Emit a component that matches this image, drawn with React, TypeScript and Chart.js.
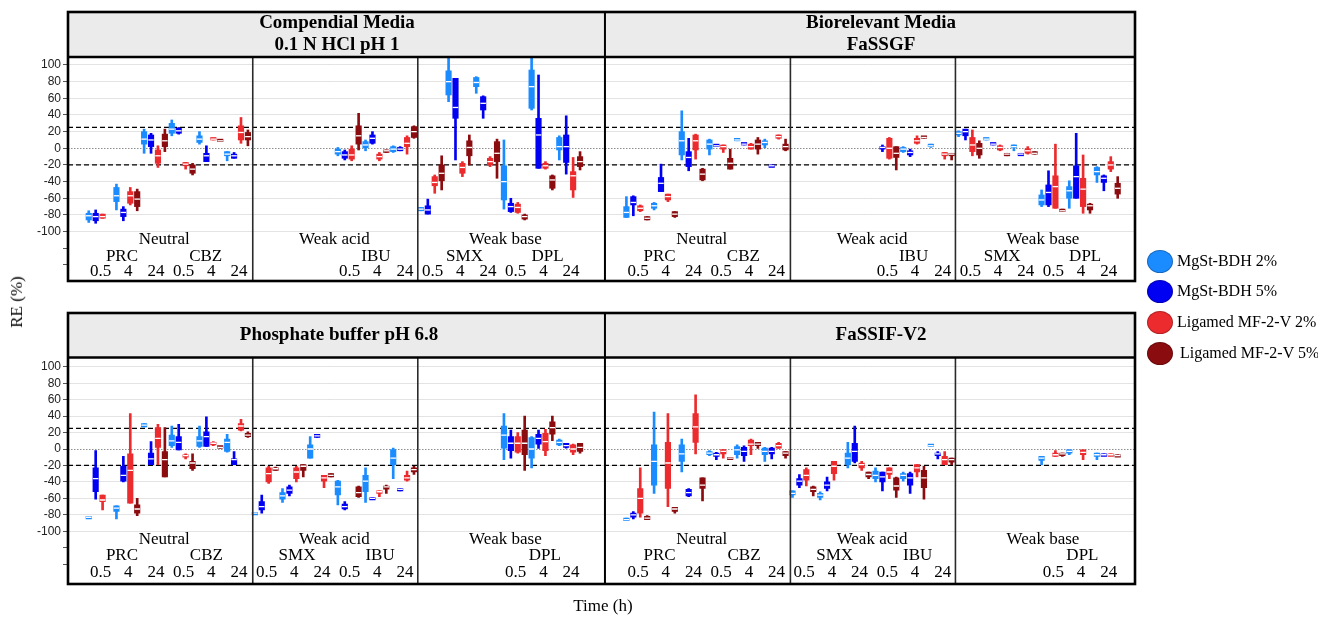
import React, { useEffect, useRef } from 'react';
import { Chart, registerables } from 'chart.js';

Chart.register(...registerables);

type Box = [number, number, number, number, number] | null; // [min, q1, median, q3, max]
const _ = null;

const SERIES = ['MgSt-BDH 2%', 'MgSt-BDH 5%', 'Ligamed MF-2-V 2%', 'Ligamed MF-2-V 5%'];
const COLORS = ['#1b8cff', '#0000f2', '#ec2b2e', '#8b0c0f'];
const TIMES = ['0.5', '4', '24'];
const CLASSES = ['Neutral', 'Weak acid', 'Weak base'];
const DRUGS_TOP = ['PRC', 'CBZ', '', 'IBU', 'SMX', 'DPL'];
const DRUGS_BOTTOM = ['PRC', 'CBZ', 'SMX', 'IBU', '', 'DPL'];
const HEADERS_TOP = [['Compendial Media', '0.1 N HCl pH 1'], ['Biorelevant Media', 'FaSSGF']];
const HEADERS_BOTTOM = [['Phosphate buffer pH 6.8'], ['FaSSIF-V2']];
const Y_TICKS = [-140, -120, -100, -80, -60, -40, -20, 0, 20, 40, 60, 80, 100];
const LIMITS = [25, -20];

// ---- 0.1 N HCl pH 1 (18 groups: PRC 0.5/4/24, CBZ, acid A, acid B, base A, base B)
const HCL_MG2: Box[] = [
  [-89, -86, -81, -78, -75], [-74, -64, -57, -47, -43], [-6, 5, 11, 20, 23],
  [15, 18, 23, 30, 34], [5, 7, 11, 15, 20], [-15, -9, -7, -4, -4],
  _, _, _,
  [-9, -7, -4, -1, 1], [-3, 0, 4, 8, 10], [-5, -4, -1, 2, 3],
  [-75, -75, -73, -71, -71], [56, 64, 80, 93, 115], [66, 74, 79, 85, 86],
  [-73, -62, -40, -21, 10], [46, 48, 74, 94, 115], [-14, -2, 2, 13, 15],
];
const HCL_MG5: Box[] = [
  [-90, -87, -82, -78, -74], [-87, -82, -77, -73, -70], [-6, 2, 10, 16, 18],
  [17, 18, 21, 24, 25], [-16, -16, -9, -6, 3], [-12, -12, -9, -7, -5],
  _, _, _,
  [-14, -12, -8, -4, -2], [5, 6, 12, 16, 20], [-3, -3, -1, 1, 2],
  [-79, -79, -74, -69, -61], [-14, 36, 49, 84, 84], [36, 46, 54, 62, 63],
  [-77, -76, -70, -66, -60], [-24, -24, 16, 36, 88], [-31, -17, 2, 16, 39],
];
const HCL_LG2: Box[] = [
  [-84, -84, -82, -79, -79], [-68, -66, -57, -52, -47], [-23, -18, -9, -2, 3],
  [-25, -21, -19, -17, -17], [10, 10, 11, 12, 12], [6, 10, 19, 27, 37],
  _, _, _,
  [-15, -13, -8, -1, 3], [-15, -13, -10, -7, -5], [-7, 2, 6, 13, 15],
  [-54, -45, -41, -34, -32], [-34, -30, -23, -18, -16], [-22, -20, -16, -12, -10],
  [-78, -77, -71, -67, -65], [-25, -24, -21, -18, -16], [-59, -50, -33, -28, -11],
];
const HCL_LG5: Box[] = [
  _, [-75, -70, -61, -52, -49], [-4, 2, 9, 17, 23],
  [-32, -30, -25, -20, -18], [8, 8, 9, 10, 10], [3, 10, 14, 19, 22],
  _, _, _,
  [-2, 5, 15, 27, 42], [-5, -5, -3, -2, -2], [12, 13, 20, 26, 27],
  [-50, -39, -30, -20, -9], [-20, -9, 1, 9, 16], [-36, -16, -6, 8, 11],
  [-86, -85, -82, -80, -79], [-50, -48, -38, -33, -32], [-26, -22, -16, -10, -4],
];

// ---- FaSSGF
const GF_MG2: Box[] = [
  [-83, -83, -77, -70, -58], [-74, -72, -69, -66, -65], [-14, -8, 9, 20, 45],
  [-8, -1, 5, 10, 11], [9, 9, 10, 11, 11], [0, 4, 7, 9, 11],
  _, _, _,
  _, [-5, -4, -1, 1, 2], [1, 2, 3, 4, 5],
  [14, 16, 18, 20, 21], [10, 10, 11, 12, 12], [-3, 1, 2, 4, 4],
  [-70, -68, -62, -56, -50], [-72, -60, -51, -46, -39], [-41, -32, -28, -23, -22],
];
const GF_MG5: Box[] = [
  [-81, -68, -65, -58, -57], [-52, -52, -42, -35, -19], [-27, -22, -11, -4, 12],
  [2, 2, 3, 4, 4], [4, 4, 5, 6, 6], [-22, -22, -21, -20, -20],
  _, _, _,
  [-4, -1, 1, 2, 4], [-10, -8, -5, -3, -1], _,
  [10, 15, 20, 23, 23], [4, 4, 5, 6, 6], [-8, -8, -7, -6, -6],
  [-70, -68, -53, -44, -27], [-60, -60, -34, -21, 18], [-51, -41, -36, -33, -32],
];
const GF_LG2: Box[] = [
  [-76, -75, -72, -69, -68], [-64, -62, -58, -55, -55], [-13, -2, 9, 16, 17],
  [-5, -1, 2, 4, 4], [-1, -1, 2, 5, 6], [11, 12, 14, 16, 16],
  _, _, _,
  [-13, -12, 0, 12, 13], [5, 6, 9, 12, 15], [-13, -9, -7, -5, -5],
  [-9, -4, 4, 13, 22], [-3, -2, 1, 3, 4], [-7, -6, -3, 0, 2],
  [-72, -72, -46, -33, 5], [-78, -70, -49, -36, -8], [-28, -25, -20, -16, -10],
];
const GF_LG5: Box[] = [
  [-86, -86, -84, -82, -82], [-83, -82, -79, -76, -76], [-39, -38, -31, -25, -24],
  [-25, -25, -18, -12, -1], [-7, -1, 5, 10, 13], [-3, -2, 2, 5, 11],
  _, _, _,
  [-26, -11, -6, 2, 2], [12, 12, 13, 14, 14], [-14, -9, -7, -6, -6],
  [-12, -8, 0, 6, 9], [-9, -9, -7, -6, -6], [-7, -7, -6, -4, -4],
  [-76, -76, -75, -73, -73], [-78, -74, -69, -67, -66], [-60, -55, -48, -42, -34],
];

// ---- Phosphate buffer pH 6.8
const PB_MG2: Box[] = [
  [-84, -84, -83, -82, -82], [-85, -76, -72, -69, -69], [27, 27, 29, 31, 31],
  [2, 4, 10, 17, 28], [2, 3, 10, 15, 28], [-4, -3, 8, 12, 18],
  [-80, -80, -78, -77, -77], [-65, -61, -57, -53, -48], [-11, -11, 0, 5, 15],
  [-68, -56, -46, -39, -38], [-65, -52, -39, -32, -23], [-36, -19, -11, 0, 1],
  _, _, _,
  [-13, 1, 17, 28, 43], [-23, -11, 0, 14, 15], [4, 5, 8, 11, 12],
];
const PB_MG5: Box[] = [
  [-61, -52, -36, -23, -2], [-40, -39, -32, -21, -9], [-19, -19, -12, -5, 9],
  [-1, -1, 8, 15, 30], [3, 3, 15, 21, 39], [-19, -19, -13, -12, -3],
  [-78, -74, -70, -64, -56], [-57, -54, -50, -46, -44], [14, 14, 16, 18, 18],
  [-74, -73, -70, -67, -64], [-61, -61, -60, -59, -59], [-51, -51, -49, -48, -48],
  _, _, _,
  [-11, -2, 7, 15, 23], [0, 6, 13, 18, 23], [1, 2, 4, 7, 7],
];
const PB_LG2: Box[] = [
  [-74, -64, -62, -56, -56], [-66, -66, -26, -6, 43], [-19, 2, 13, 26, 30],
  [-12, -9, -8, -7, -6], [4, 5, 7, 8, 9], [22, 23, 28, 31, 36],
  [-42, -40, -30, -23, -21], [-40, -36, -28, -23, -21], [-47, -39, -35, -32, -32],
  _, [-58, -54, -52, -51, -51], [-39, -38, -35, -32, -27],
  _, _, _,
  [-5, -4, 7, 15, 20], [-8, -2, 9, 19, 24], [-7, -4, 0, 5, 6],
];
const PB_LG5: Box[] = [
  _, [-81, -78, -73, -68, -60], [-34, -34, -13, -3, 26],
  [-26, -24, -17, -15, -6], [1, 1, 2, 3, 3], [14, 15, 17, 19, 21],
  [-26, -26, -24, -23, -22], [-34, -26, -21, -19, -19], [-34, -34, -32, -30, -30],
  [-59, -58, -53, -46, -45], [-54, -49, -46, -45, -44], [-31, -28, -25, -23, -21],
  _, _, _,
  [-26, -7, 7, 23, 40], [10, 18, 26, 33, 40], [-5, -3, 2, 7, 7],
];

// ---- FaSSIF-V2
const IF_MG2: Box[] = [
  [-87, -87, -86, -84, -84], [-54, -44, -15, 5, 45], [-28, -15, -6, 5, 12],
  [-8, -7, -5, -3, -2], [-11, -7, -1, 3, 5], [-15, -7, -3, 1, 2],
  [-59, -56, -54, -51, -51], [-62, -59, -56, -54, -52], [-23, -19, -11, -5, 8],
  [-40, -36, -32, -27, -23], [-39, -36, -32, -30, -28], [3, 3, 4, 5, 5],
  _, _, _,
  [-19, -14, -11, -9, -9], [-7, -5, -3, -1, -1], [-13, -9, -7, -5, -5],
];
const IF_MG5: Box[] = [
  [-85, -83, -80, -78, -76], _, [-58, -57, -53, -49, -48],
  [-13, -9, -7, -5, -4], [-15, -8, -3, 2, 4], [-12, -6, -3, 1, 2],
  [-47, -44, -39, -36, -31], [-51, -48, -44, -40, -34], [-17, -15, -3, 7, 28],
  [-51, -40, -34, -28, -28], [-54, -44, -35, -30, -28], [-12, -8, -6, -5, -3],
  _, _, _,
  _, _, [-8, -8, -7, -6, -6],
];
const IF_LG2: Box[] = [
  [-83, -78, -60, -48, -23], [-70, -48, -17, 8, 43], [-6, 8, 27, 43, 66],
  [-11, -6, -3, 0, 0], [-7, 4, 6, 11, 12], [0, 1, 4, 7, 8],
  [-45, -38, -32, -25, -23], [-38, -30, -21, -15, -15], [-26, -23, -19, -17, -15],
  [-36, -31, -28, -23, -23], [-34, -28, -23, -19, -19], [-19, -19, -13, -9, -3],
  _, _, _,
  [-9, -9, -7, -5, -2], [-13, -7, -4, -1, -1], [-8, -8, -7, -6, -6],
];
const IF_LG5: Box[] = [
  [-86, -86, -84, -82, -81], [-78, -76, -73, -71, -71], [-63, -48, -44, -35, -35],
  [-12, -12, -11, -10, -10], [0, 4, 6, 8, 8], [-11, -8, -5, -3, -3],
  [-57, -52, -49, -46, -45], _, [-36, -34, -31, -28, -28],
  [-59, -50, -45, -35, -34], [-61, -47, -35, -26, -21], [-19, -16, -13, -11, -11],
  _, _, _,
  [-9, -8, -6, -5, -5], _, [-9, -9, -8, -7, -7],
];

// ---- layout (slot units on a linear x scale; 4 series per time point)
const RIGHT_OFFSET = 77.7;
const X_MIN = -2.5;
const X_MAX = 151.7;
const PANEL_SPLIT = 75.1;
const SUB_SPLITS = [24.2, 48.05];
const CLASS_X = [11.4, 36, 60.7];
const DRUG_X_TOP = [5.3, 17.4, 0, 42, 54.8, 66.8];
const DRUG_X_BOTTOM = [5.3, 17.5, 30.6, 42.6, 0, 66.4];

const TOP_ROW = {
  panels: [[HCL_MG2, HCL_MG5, HCL_LG2, HCL_LG5], [GF_MG2, GF_MG5, GF_LG2, GF_LG5]],
  yMin: -159.3, yMax: 109.6, height: 300, padTop: 57, padBottom: 19, headerTop: 12,
  headers: HEADERS_TOP, headerX: [337, 881], headerY: [23, 45],
  drugs: DRUGS_TOP, drugX: DRUG_X_TOP, textY: [240, 257, 272],
};
const BOTTOM_ROW = {
  panels: [[PB_MG2, PB_MG5, PB_LG2, PB_LG5], [IF_MG2, IF_MG5, IF_LG2, IF_LG5]],
  yMin: -164.2, yMax: 111.3, height: 318, padTop: 57.5, padBottom: 34, headerTop: 13,
  headers: HEADERS_BOTTOM, headerX: [339, 881], headerY: [35],
  drugs: DRUGS_BOTTOM, drugX: DRUG_X_BOTTOM, textY: [240, 256, 273],
};

function buildDatasets(panels: Box[][][]) {
  const out: any[] = [];
  for (let k = 0; k < SERIES.length; k++) {
    const whisk: any[] = [];
    const box: any[] = [];
    const med: any[] = [];
    panels.forEach((series, p) => {
      series[k].forEach((b, g) => {
        if (!b) return;
        const x = p * RIGHT_OFFSET + g * 4 + k + 0.5;
        whisk.push({ x, y: [b[0], b[4]] });
        box.push({ x, y: [b[1], b[3]] });
        med.push({ x, y: b[2] });
      });
    });
    out.push({ type: 'bar', label: SERIES[k] + ' range', data: whisk, backgroundColor: COLORS[k], borderWidth: 0, barThickness: 2, grouped: false, order: 3 });
    out.push({ type: 'bar', label: SERIES[k], data: box, backgroundColor: COLORS[k], borderWidth: 0, barThickness: 5.5, minBarLength: 2.5, grouped: false, order: 2 });
    out.push({
      type: 'scatter', label: SERIES[k] + ' median', data: med, showLine: false,
      pointStyle: 'line', pointRadius: 2.75, pointBorderColor: '#ffffff', pointBorderWidth: 1.3,
      borderColor: '#ffffff', order: 1,
    });
  }
  return out;
}

function makeConfig(row: any): any {
  const decor = {
    id: 'decor',
    beforeDatasetsDraw(chart: any) {
      const { ctx, chartArea: a, scales } = chart;
      const y = scales.y;
      ctx.save();
      ctx.strokeStyle = '#8f8f8f';
      ctx.lineWidth = 1;
      ctx.setLineDash([1.5, 1.5]);
      const y0 = Math.round(y.getPixelForValue(0)) + 0.5;
      ctx.beginPath(); ctx.moveTo(a.left, y0); ctx.lineTo(a.right, y0); ctx.stroke();
      ctx.strokeStyle = '#000';
      ctx.lineWidth = 1.3;
      ctx.setLineDash([5, 3]);
      LIMITS.forEach((v) => {
        const py = y.getPixelForValue(v);
        ctx.beginPath(); ctx.moveTo(a.left, py); ctx.lineTo(a.right, py); ctx.stroke();
      });
      ctx.restore();
    },
    afterDraw(chart: any) {
      const { ctx, chartArea: a, scales } = chart;
      const x = scales.x;
      const hTop = row.headerTop;
      ctx.save();
      // header background
      ctx.fillStyle = '#ebebeb';
      ctx.fillRect(a.left, hTop, a.right - a.left, a.top - hTop);
      // sub-panel separators
      ctx.strokeStyle = '#2a2a2a';
      ctx.lineWidth = 1.6;
      [0, RIGHT_OFFSET].forEach((off) => {
        SUB_SPLITS.forEach((s) => {
          const px = x.getPixelForValue(off + s);
          ctx.beginPath(); ctx.moveTo(px, a.top); ctx.lineTo(px, a.bottom); ctx.stroke();
        });
      });
      // panel split
      ctx.strokeStyle = '#000';
      ctx.lineWidth = 2;
      const ps = x.getPixelForValue(PANEL_SPLIT);
      ctx.beginPath(); ctx.moveTo(ps, hTop); ctx.lineTo(ps, a.bottom); ctx.stroke();
      // header bottom + outer border
      ctx.lineWidth = 2.6;
      ctx.beginPath(); ctx.moveTo(a.left, a.top); ctx.lineTo(a.right, a.top); ctx.stroke();
      ctx.strokeRect(a.left, hTop, a.right - a.left, a.bottom - hTop);
      // header text
      ctx.fillStyle = '#000';
      ctx.textAlign = 'center';
      ctx.textBaseline = 'middle';
      ctx.font = 'bold 19px "Liberation Serif", serif';
      row.headers.forEach((lines: string[], p: number) => {
        lines.forEach((t, i) => ctx.fillText(t, row.headerX[p], row.headerY[i]));
      });
      // group labels
      ctx.font = '17px "Liberation Serif", serif';
      [0, RIGHT_OFFSET].forEach((off) => {
        CLASSES.forEach((c, ci) => ctx.fillText(c, x.getPixelForValue(off + CLASS_X[ci]), row.textY[0]));
        row.drugs.forEach((d: string, di: number) => {
          if (!d) return;
          ctx.fillText(d, x.getPixelForValue(off + row.drugX[di]), row.textY[1]);
          TIMES.forEach((t, ti) => {
            const g = di * 3 + ti;
            ctx.fillText(t, x.getPixelForValue(off + g * 4 + 2.2), row.textY[2]);
          });
        });
      });
      ctx.restore();
    },
  };

  return {
    type: 'bar',
    data: { datasets: buildDatasets(row.panels) },
    options: {
      responsive: false,
      animation: false,
      events: [],
      layout: { padding: { top: row.padTop, bottom: row.padBottom, left: 0, right: 183 } },
      plugins: { legend: { display: false }, tooltip: { enabled: false } },
      scales: {
        x: { type: 'linear', min: X_MIN, max: X_MAX, offset: false, display: false },
        y: {
          type: 'linear',
          min: row.yMin,
          max: row.yMax,
          afterBuildTicks: (s: any) => { s.ticks = Y_TICKS.map((v) => ({ value: v })); },
          afterFit: (s: any) => { s.width = 68; },
          border: { display: false },
          grid: {
            color: (c: any) => (c.tick && (c.tick.value < -100 || c.tick.value === 0) ? 'rgba(0,0,0,0)' : '#e3e3e3'),
            tickColor: '#555',
            tickLength: 5,
            lineWidth: 1,
          },
          ticks: {
            padding: 2,
            color: '#222',
            font: { family: '"Liberation Sans", Arial, sans-serif', size: 12 },
            callback: (v: any) => (v >= -100 ? String(v) : ''),
          },
        },
      },
    },
    plugins: [decor],
  };
}

function RowChart({ row, top }: { row: any; top: number }) {
  const ref = useRef<HTMLCanvasElement>(null);
  useEffect(() => {
    const chart = new Chart(ref.current as HTMLCanvasElement, makeConfig(row));
    return () => chart.destroy();
  }, [row]);
  return (
    <canvas
      ref={ref}
      width={1318}
      height={row.height}
      style={{ position: 'absolute', left: 0, top, width: 1318, height: row.height }}
    />
  );
}

const LEGEND_Y = [261, 291, 322, 353];

export default function App() {
  return (
    <div
      style={{
        position: 'absolute', left: 0, top: 0, width: 1318, height: 618, background: '#fff',
        fontFamily: '"Liberation Serif", "Times New Roman", serif', color: '#000', overflow: 'hidden',
      }}
    >
      <RowChart row={TOP_ROW} top={0} />
      <RowChart row={BOTTOM_ROW} top={300} />
      <div
        style={{
          position: 'absolute', left: 17, top: 302, fontSize: 17, whiteSpace: 'nowrap',
          transform: 'translate(-50%, -50%) rotate(-90deg)',
        }}
      >
        RE (%)
      </div>
      <div style={{ position: 'absolute', left: 603, top: 606, fontSize: 17, whiteSpace: 'nowrap', transform: 'translate(-50%, -50%)' }}>
        Time (h)
      </div>
      {SERIES.map((s, i) => (
        <React.Fragment key={s}>
          <div
            style={{
              position: 'absolute', left: 1147, top: LEGEND_Y[i] - 11.5, width: 26, height: 23,
              borderRadius: '50%', background: COLORS[i], boxSizing: 'border-box',
              border: '1px solid rgba(0,0,0,0.25)',
            }}
          />
          <div
            style={{
              position: 'absolute', left: 1177 + (i === 3 ? 3 : 0), top: LEGEND_Y[i] - 10, fontSize: 16,
              lineHeight: '20px', whiteSpace: 'nowrap',
            }}
          >
            {s}
          </div>
        </React.Fragment>
      ))}
    </div>
  );
}
